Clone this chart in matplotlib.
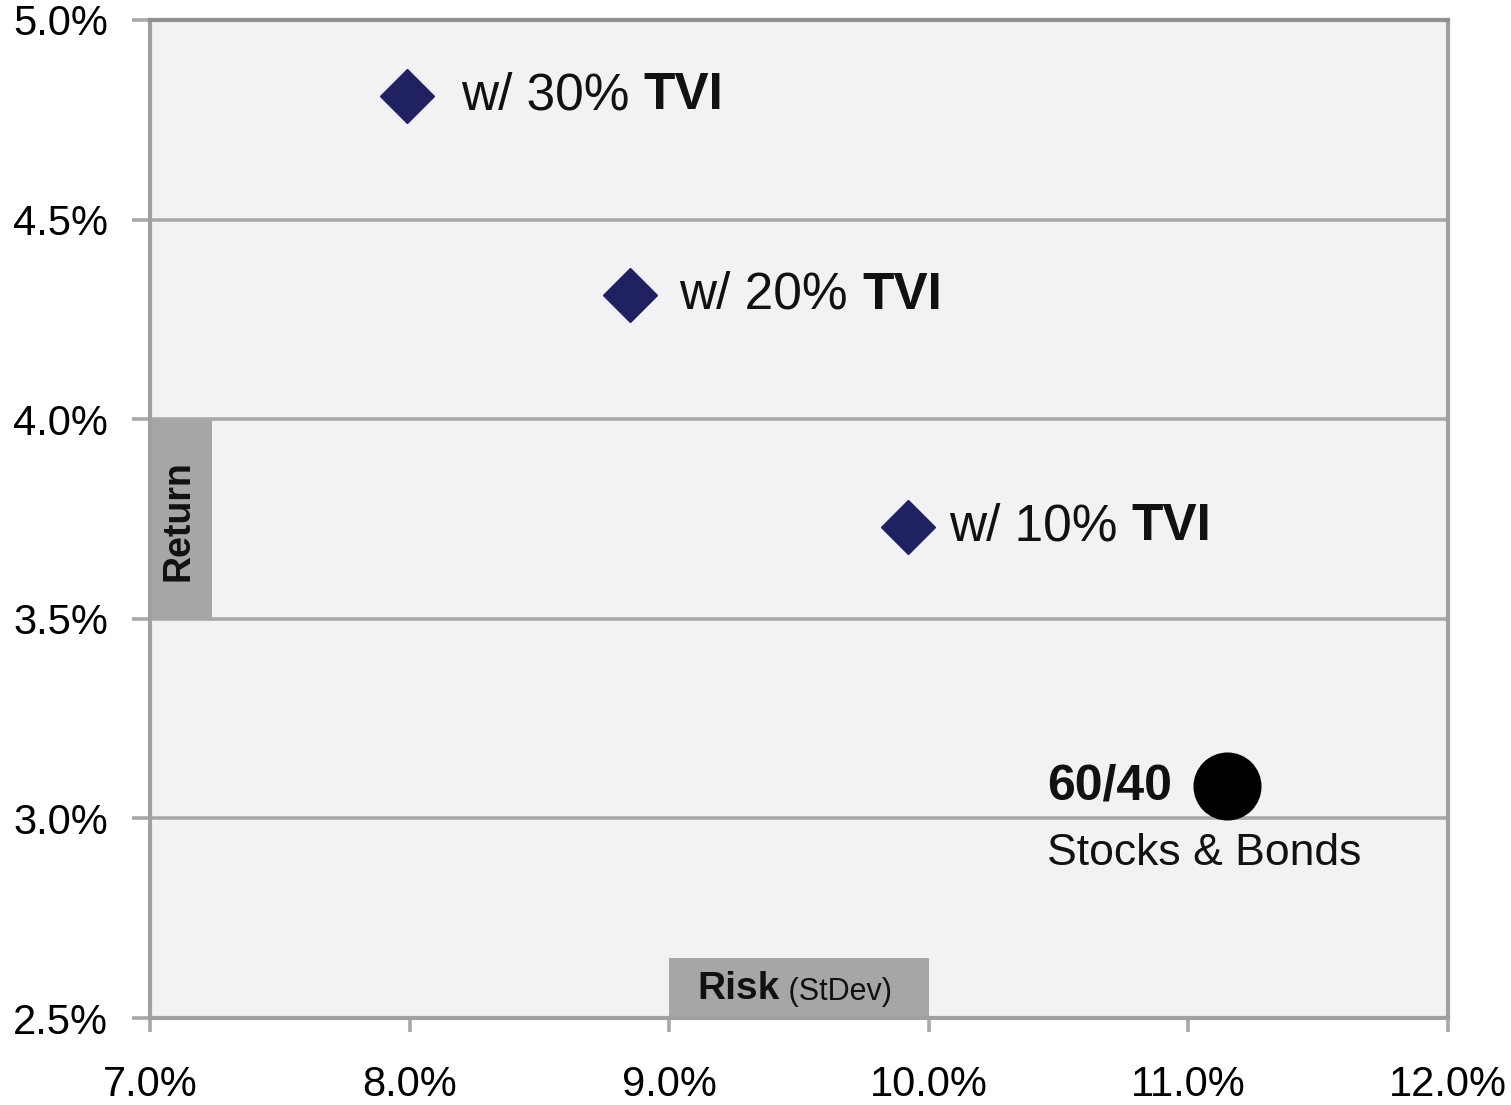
import matplotlib
matplotlib.use("Agg")
import matplotlib.pyplot as plt
from matplotlib.patches import Rectangle
from matplotlib.ticker import FuncFormatter

# data (percent)
tvi_labels = ["w/ 30% ", "w/ 20% ", "w/ 10% "]
tvi_risk = [7.99, 8.85, 9.92]
tvi_return = [4.81, 4.31, 3.73]

base_label = "60/40"
base_sub = "Stocks & Bonds"
base_risk = 11.15
base_return = 3.08

x_ticks = [7.0, 8.0, 9.0, 10.0, 11.0, 12.0]
y_ticks = [2.5, 3.0, 3.5, 4.0, 4.5, 5.0]

plt.rcParams["font.family"] = ["Liberation Sans", "DejaVu Sans"]

GRID = "#a8a8a8"
BOX = "#a6a6a8"
NAVY = "#1f2161"

fig = plt.figure(figsize=(15.11, 11.05), dpi=100)
ax = fig.add_axes([150 / 1511, 1 - 1018 / 1105, 1298 / 1511, 998 / 1105])
ax.set_facecolor("#f2f2f4")

ax.set_xlim(x_ticks[0], x_ticks[-1])
ax.set_ylim(y_ticks[0], y_ticks[-1])
ax.set_xticks(x_ticks)
ax.set_yticks(y_ticks)
fmt = FuncFormatter(lambda v, p: f"{v:.1f}%")
ax.xaxis.set_major_formatter(fmt)
ax.yaxis.set_major_formatter(fmt)

for s in ax.spines.values():
    s.set_color("#a0a0a0")
    s.set_linewidth(3)
ax.spines["top"].set_color("#909090")

ax.yaxis.grid(True, color=GRID, lw=2.6, zorder=1)
ax.set_axisbelow(True)
ax.tick_params(axis="y", length=13, width=2.6, color=GRID, pad=17, labelsize=30)
ax.tick_params(axis="x", length=10, width=2.6, color=GRID, pad=24, labelsize=30)

# axis title boxes sitting inside the plot area
ax.add_patch(Rectangle((7.0, 3.5), 0.239, 0.5, color=BOX, zorder=2, lw=0))
ax.text(7.108, 3.745, "Return", rotation=90, ha="center", va="center",
        fontsize=27, fontweight="bold", color="#111111", zorder=3)

ax.add_patch(Rectangle((9.0, 2.5), 1.0, 0.15, color=BOX, zorder=2, lw=0))
t_risk = ax.text(9.108, 2.572, "Risk", ha="left", va="center",
                 fontsize=28, fontweight="bold", color="#111111", zorder=3)
ax.annotate(" (StDev)", xy=(1, 0), xycoords=t_risk, ha="left", va="bottom",
            fontsize=22, color="#111111", zorder=3)

# TVI points
ax.plot(tvi_risk, tvi_return, ls="none", marker="D", ms=27, color=NAVY,
        mec=NAVY, zorder=4)
offsets = [54, 49, 41]
for lab, x, y, off in zip(tvi_labels, tvi_risk, tvi_return, offsets):
    t = ax.annotate(lab, xy=(x, y), xytext=(off, 0), textcoords="offset pixels",
                    ha="left", va="center", fontsize=37, color="#111111", zorder=5)
    ax.annotate("TVI", xy=(1, 0), xycoords=t, ha="left", va="bottom",
                fontsize=37, fontweight="bold", color="#111111", zorder=5)

# 60/40 portfolio
ax.plot([base_risk], [base_return], ls="none", marker="o", ms=48,
        color="black", zorder=4)
ax.annotate(base_label, xy=(base_risk, base_return), xytext=(-180, 0),
            textcoords="offset pixels", ha="left", va="center",
            fontsize=36, fontweight="bold", color="#111111", zorder=5)
ax.annotate(base_sub, xy=(base_risk, base_return), xytext=(-180, -67),
            textcoords="offset pixels", ha="left", va="center",
            fontsize=32, color="#111111", zorder=5)

fig.savefig("out.png", dpi=100)
